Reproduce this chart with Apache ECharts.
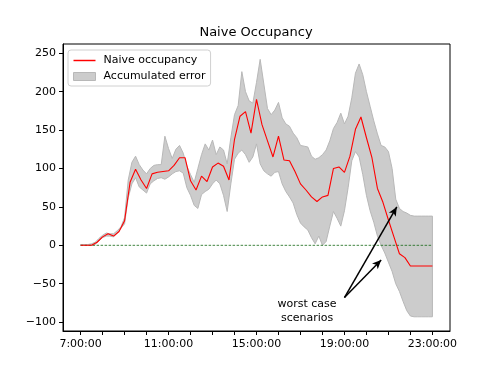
<!DOCTYPE html>
<html>
<head>
<meta charset="utf-8">
<script src="https://cdn.jsdelivr.net/npm/echarts@6/dist/echarts.min.js"></script>
<style>
html,body{margin:0;padding:0;background:#fff;}
#chart{width:500px;height:373px;}
</style>
</head>
<body>
<div id="chart"></div>
<script>
// ---- data ----
// naive occupancy, every 15 minutes from 7:00 to 23:00
var occStart = 7.0;
var occStep = 0.25;
var occupancy = [0,0,0,4,11,15,12,18,32,82,99,85,74,93,95,96,97,104,114,114,84,72,90,83,102,107,103,85,138,168,174,146,190,157,136,115,142,111,110,96,80,72,63,57,63,65,100,102,95,116,151,167,140,114,74,56,33,11,-11,-16,-27,-27,-27,-27,-27];
// accumulated error band, every 10 minutes from 7:00 to 23:00
var bandStart = 7.0;
var bandStep = 1/6;
var bandUpper = [1,1,1,2,4,9,13,16,15,15,19,24,36,85,108,116,105,98,93,100,104,105,105,142,126,113,125,130,120,103,92,82,100,118,132,124,137,118,128,124,106,140,170,182,226,200,188,185,212,242,210,178,170,176,186,166,158,155,146,140,130,129,128,116,112,114,118,124,136,152,160,172,158,168,192,224,236,222,200,181,162,145,130,128,122,100,60,48,44,42,39,38,38,38,38,38,38];
var bandLower = [0,0,0,0,1,6,10,12,12,11,16,22,28,62,80,88,76,72,68,80,84,87,88,86,89,93,96,97,94,75,65,52,48,66,70,73,80,85,80,65,44,80,112,120,124,118,108,115,132,106,97,93,90,95,96,80,70,63,55,40,29,24,20,10,2,12,0,5,25,44,35,25,45,75,110,122,115,92,65,45,30,12,0,-10,-22,-34,-50,-60,-73,-85,-92,-93,-93,-93,-93,-93,-93];
var xTickValues = [7,8,9,10,11,12,13,14,15,16,17,18,19,20,21,22,23];
var xLabelValues = [7,11,15,19,23];
var yTickValues = [-100,-50,0,50,100,150,200,250];
var zeroLine = [[7,0],[23,0]];
var arrowTail = [19.0,-68];
var arrowHeads = [[21.38,50],[20.67,-19]];
var annotText = 'worst case\nscenarios';
var annotPos = [17.3,-86];
var titleText = 'Naive Occupancy';

// ---- build ----
var occData = occupancy.map(function(v,i){return [occStart + i*occStep, v];});
var bandData = bandUpper.map(function(v,i){return [bandStart + i*bandStep, v, bandLower[i]];});

var font = 'DejaVu Sans';
var chart = echarts.init(document.getElementById('chart'), null, {renderer:'canvas'});
chart.setOption({
  animation:false,
  backgroundColor:'#fff',
  title:{text:titleText,top:26,left:256,textAlign:'center',padding:0,
    textStyle:{fontFamily:font,fontSize:13,fontWeight:'normal',color:'#000'}},
  grid:{left:63,right:50,top:44,bottom:42,show:true,borderColor:'#000',borderWidth:1,backgroundColor:'transparent'},
  legend:{
    orient:'vertical',left:68,top:50,
    padding:[5,5,4,5],itemGap:5,itemWidth:22,itemHeight:8,
    backgroundColor:'#fff',borderColor:'#d0d0d0',borderWidth:1,borderRadius:3,
    textStyle:{fontFamily:font,fontSize:11,color:'#000',padding:[0,0,0,3]},
    data:[
      {name:'Naive occupancy',icon:'path://M0,0 H30 V2 H0 Z',itemStyle:{color:'#ff0000'}},
      {name:'Accumulated error',icon:'rect',itemStyle:{color:'#cccccc',borderColor:'#b8b8b8',borderWidth:1}}
    ]
  },
  xAxis:{
    type:'value',min:6.2,max:23.8,
    axisLine:{show:true,onZero:false,lineStyle:{color:'#000',width:1}},
    axisTick:{show:true,customValues:xTickValues,length:4,lineStyle:{color:'#000'}},
    axisLabel:{customValues:xLabelValues,margin:8,fontFamily:font,fontSize:11,color:'#000',
      formatter:function(v){return Math.round(v)+':00:00';}},
    splitLine:{show:false}
  },
  yAxis:{
    type:'value',min:-111.5,max:262,
    axisLine:{show:true,onZero:false,lineStyle:{color:'#000',width:1}},
    axisTick:{show:true,customValues:yTickValues,length:4,lineStyle:{color:'#000'}},
    axisLabel:{customValues:yTickValues,margin:7,fontFamily:font,fontSize:11,color:'#000',
      formatter:function(v){return v<0?'\u2212'+Math.abs(v):String(v);}},
    splitLine:{show:false}
  },
  series:[
    {name:'Accumulated error',type:'custom',data:bandData,silent:true,z:1,
      encode:{x:0,y:[1,2]},
      itemStyle:{color:'#cccccc'},
      renderItem:function(params, api){
        if (params.dataIndex !== 0) return null;
        var pts = [];
        var i;
        for (i = 0; i < bandData.length; i++) pts.push(api.coord([bandData[i][0], bandData[i][1]]));
        for (i = bandData.length - 1; i >= 0; i--) pts.push(api.coord([bandData[i][0], bandData[i][2]]));
        return {type:'polygon',shape:{points:pts},
          style:{fill:'#cccccc',stroke:'#b8b8b8',lineWidth:1}};
      }
    },
    {name:'zero',type:'line',data:zeroLine,symbol:'none',silent:true,
      lineStyle:{color:'#116611',width:0.8,type:[2.5,1.5]},z:2,
      markLine:{silent:true,symbol:['none','arrow'],symbolSize:[6,9],label:{show:false},
        lineStyle:{color:'#000',width:1.5,type:'solid'},
        data:arrowHeads.map(function(h){return [{coord:arrowTail},{coord:h}];})},
      markPoint:{silent:true,symbol:'circle',symbolSize:0,
        data:[{coord:annotPos,label:{show:true,position:'inside',formatter:annotText,fontFamily:font,fontSize:11,color:'#000',lineHeight:14}}]}
    },
    {name:'Naive occupancy',type:'line',data:occData,symbol:'none',silent:true,
      lineStyle:{color:'#ff0000',width:1.1},z:3}
  ]
});
</script>
</body>
</html>
